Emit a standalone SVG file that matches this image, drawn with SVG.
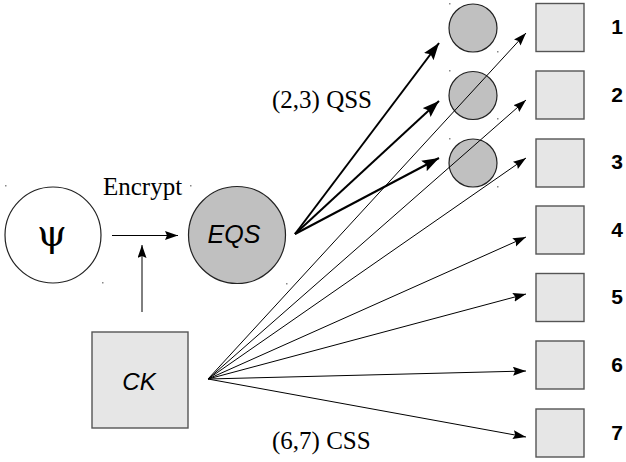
<svg xmlns="http://www.w3.org/2000/svg" width="626" height="462" viewBox="0 0 626 462">
<style>
.ring{stroke:#222;stroke-width:1.2}
.sq{fill:#e6e6e6;stroke:#555;stroke-width:1.4}
.thin{stroke:#000;stroke-width:1;fill:none}
.thick{stroke:#000;stroke-width:2;fill:none}
.serif{font-family:"Liberation Serif","Times New Roman",serif;font-size:25px}
.sans{font-family:"Liberation Sans",Arial,sans-serif}
.num{font-family:"Liberation Sans",Arial,sans-serif;font-weight:bold;font-size:21px;text-anchor:middle}
.dot{fill:#888}
</style>
<defs>
<marker id="ah" markerUnits="userSpaceOnUse" markerWidth="14" markerHeight="10" refX="13" refY="4.5" orient="auto">
<path d="M0,0 L13,4.5 L0,9 L2,4.5 z" fill="#000"/>
</marker>
<marker id="ahb" markerUnits="userSpaceOnUse" markerWidth="18" markerHeight="12" refX="17" refY="6" orient="auto">
<path d="M0,0 L17,6 L0,12 L3,6 z" fill="#000"/>
</marker>
</defs>
<g id="dots">
<rect class="dot" x="5" y="185" width="1.5" height="1.5"/>
<rect class="dot" x="102" y="282" width="1.5" height="1.5"/>
<rect class="dot" x="190" y="185" width="1.5" height="1.5"/>
<rect class="dot" x="286" y="283" width="1.5" height="1.5"/>
<rect class="dot" x="449" y="3" width="1.5" height="1.5"/>
<rect class="dot" x="497" y="51" width="1.5" height="1.5"/>
<rect class="dot" x="449" y="70" width="1.5" height="1.5"/>
<rect class="dot" x="497" y="118" width="1.5" height="1.5"/>
<rect class="dot" x="449" y="138" width="1.5" height="1.5"/>
<rect class="dot" x="497" y="186" width="1.5" height="1.5"/>
</g>
<g id="psi">
<circle class="ring" cx="53" cy="235" r="48" fill="#fff"/>
<text x="52" y="246" style="font-family:'DejaVu Serif','Liberation Serif',serif;font-size:38px" text-anchor="middle">ψ</text>
</g>
<g id="eqs">
<circle class="ring" cx="237" cy="235" r="48.5" fill="#c0c0c0"/>
<text x="234" y="243" class="sans" font-size="25" font-style="italic" text-anchor="middle">EQS</text>
</g>
<g id="ck">
<rect class="sq" x="92" y="332" width="96" height="96"/>
<text x="139" y="390" class="sans" font-size="24" font-style="italic" text-anchor="middle">CK</text>
</g>
<g id="q1"><circle class="ring" cx="473" cy="28" r="24" fill="#c0c0c0"/></g>
<g id="q2"><circle class="ring" cx="473" cy="95.5" r="24" fill="#c0c0c0"/></g>
<g id="q3"><circle class="ring" cx="473" cy="163" r="24" fill="#c0c0c0"/></g>
<g id="connectors">
<line class="thin" x1="112" y1="235.5" x2="178" y2="235.5" marker-end="url(#ah)"/>
<line class="thin" x1="142" y1="312" x2="142" y2="245" marker-end="url(#ah)"/>
<line class="thick" x1="295" y1="234" x2="439" y2="43" marker-end="url(#ahb)"/>
<line class="thick" x1="295" y1="234" x2="439" y2="101" marker-end="url(#ahb)"/>
<line class="thick" x1="295" y1="234" x2="439" y2="158" marker-end="url(#ahb)"/>
<line class="thin" x1="208" y1="379" x2="526" y2="33" marker-end="url(#ah)"/>
<line class="thin" x1="208" y1="379" x2="526" y2="100" marker-end="url(#ah)"/>
<line class="thin" x1="208" y1="379" x2="526" y2="158" marker-end="url(#ah)"/>
<line class="thin" x1="208" y1="379" x2="526" y2="237" marker-end="url(#ah)"/>
<line class="thin" x1="208" y1="379" x2="526" y2="294" marker-end="url(#ah)"/>
<line class="thin" x1="208" y1="379" x2="526" y2="371" marker-end="url(#ah)"/>
<line class="thin" x1="208" y1="379" x2="526" y2="437" marker-end="url(#ah)"/>
</g>
<g id="s1"><rect class="sq" x="536" y="3.5" width="48" height="48"/><text class="num" x="617" y="34">1</text></g>
<g id="s2"><rect class="sq" x="536" y="71" width="48" height="48"/><text class="num" x="617" y="102">2</text></g>
<g id="s3"><rect class="sq" x="536" y="139" width="48" height="48"/><text class="num" x="617" y="169">3</text></g>
<g id="s4"><rect class="sq" x="536" y="206" width="48" height="48"/><text class="num" x="617" y="237">4</text></g>
<g id="s5"><rect class="sq" x="536" y="273.5" width="48" height="48"/><text class="num" x="617" y="304">5</text></g>
<g id="s6"><rect class="sq" x="536" y="341" width="48" height="48"/><text class="num" x="617" y="372">6</text></g>
<g id="s7"><rect class="sq" x="536" y="409" width="48" height="48"/><text class="num" x="617" y="440">7</text></g>
<g id="labels">
<text x="103" y="195" class="serif">Encrypt</text>
<text x="272" y="108" class="serif">(2,3) QSS</text>
<text x="272" y="449" class="serif">(6,7) CSS</text>
</g>
</svg>
